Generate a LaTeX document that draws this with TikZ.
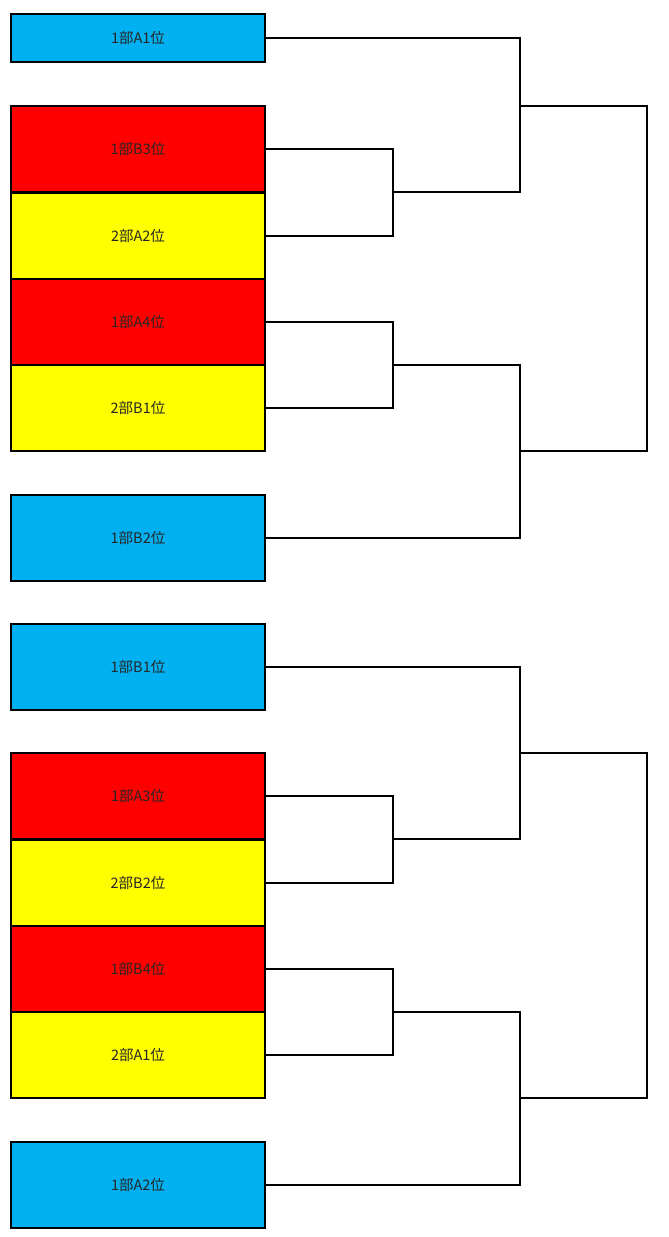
\documentclass[tikz,border=0pt]{standalone}
\usepackage{fontspec}
\newfontfamily\jp{Noto Sans CJK JP}
\definecolor{cy}{HTML}{00B0F0}
\definecolor{rd}{HTML}{FF0000}
\definecolor{yl}{HTML}{FFFF00}
\tikzset{
  box/.style={draw=black, line width=1.6pt, minimum width=254pt, inner sep=0pt, font=\jp\fontsize{14.5}{15}\selectfont, text=black!85},
  tall/.style={box, minimum height=86.5pt},
  conn/.style={draw=black, line width=1.6pt}
}
\begin{document}
\begin{tikzpicture}[x=1pt,y=-1pt]
\useasboundingbox (0,0) rectangle (669,1237);
% top half
\node[box, fill=cy, minimum height=48pt] (a1) at (138,38) {1部A1位};
\node[tall, fill=rd] (b3) at (138,149) {1部B3位};
\node[tall, fill=yl] (a2) at (138,236) {2部A2位};
\node[tall, fill=rd] (a4) at (138,322) {1部A4位};
\node[tall, fill=yl] (b1s) at (138,408) {2部B1位};
\node[tall, fill=cy] (b2) at (138,538) {1部B2位};
% bottom half
\node[tall, fill=cy] (b1) at (138,667) {1部B1位};
\node[tall, fill=rd] (a3) at (138,796) {1部A3位};
\node[tall, fill=yl] (b2s) at (138,883) {2部B2位};
\node[tall, fill=rd] (b4) at (138,969) {1部B4位};
\node[tall, fill=yl] (a1s) at (138,1055) {2部A1位};
\node[tall, fill=cy] (a2t) at (138,1185) {1部A2位};
% junction coordinates
\coordinate (m1) at (393,192);
\coordinate (m2) at (520,106);
\coordinate (m3) at (393,365);
\coordinate (m4) at (520,451);
\coordinate (n1) at (393,839);
\coordinate (n2) at (520,753);
\coordinate (n3) at (393,1012);
\coordinate (n4) at (520,1098);
\coordinate (f1) at (647,106);
\coordinate (f2) at (647,451);
\coordinate (g1) at (647,753);
\coordinate (g2) at (647,1098);
% top connectors
\draw[conn] (b3.east) -| (m1) |- (a2.east);
\draw[conn] (a1.east) -| (m2) |- (m1);
\draw[conn] (a4.east) -| (m3) |- (b1s.east);
\draw[conn] (m3) -| (m4) |- (b2.east);
\draw[conn] (m2) -- (f1) -- (f2) -- (m4);
% bottom connectors
\draw[conn] (a3.east) -| (n1) |- (b2s.east);
\draw[conn] (b1.east) -| (n2) |- (n1);
\draw[conn] (b4.east) -| (n3) |- (a1s.east);
\draw[conn] (n3) -| (n4) |- (a2t.east);
\draw[conn] (n2) -- (g1) -- (g2) -- (n4);
\end{tikzpicture}
\end{document}
